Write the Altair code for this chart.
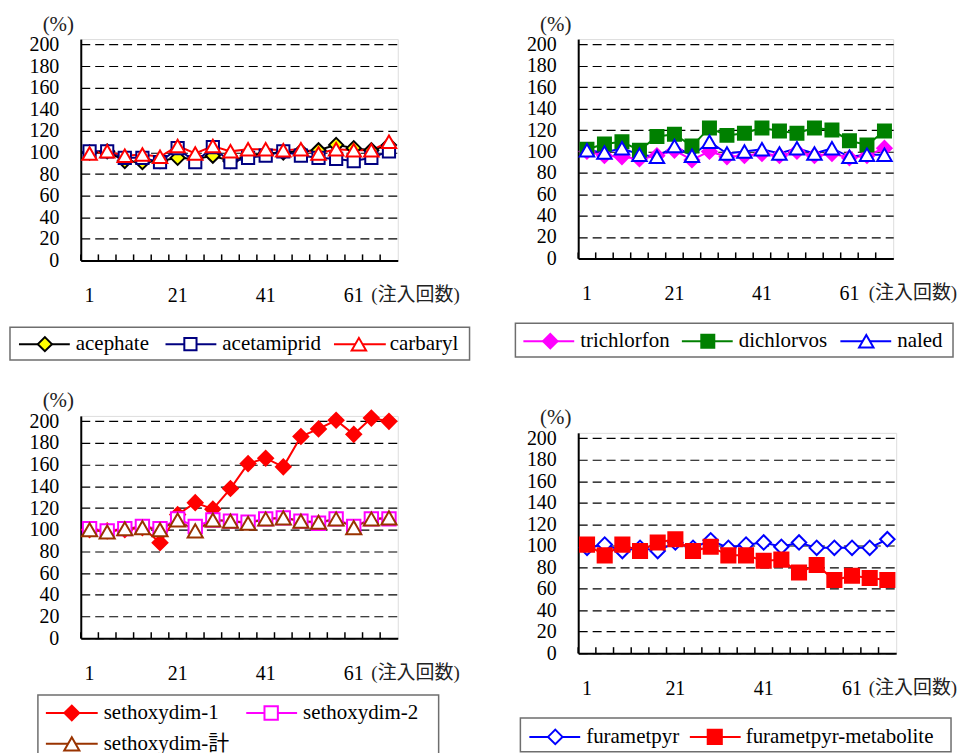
import altair as alt
import pandas as pd

# ---------------- data ----------------
INJECTIONS = [1, 5, 9, 13, 17, 21, 25, 29, 33, 37, 41, 45, 49, 53, 57, 61, 65, 69]
X_LABELS = [1, 21, 41, 61]
Y_TICKS = [0, 20, 40, 60, 80, 100, 120, 140, 160, 180, 200]

ACEPHATE = [100, 101, 92, 91, 92, 95, 94, 97, 92, 97, 99, 100, 101, 102, 107, 104, 102, 107]
ACETAMIPRID = [101, 101, 95, 95, 91, 104, 91, 105, 91, 95, 97, 101, 97, 95, 94, 92, 95, 101]
CARBARYL = [99, 101, 97, 98, 96, 106, 99, 106, 101, 103, 103, 102, 103, 99, 103, 102, 102, 110]

TRICHLORFON = [100, 96, 95, 93, 96, 101, 92, 100, 95, 96, 98, 96, 100, 96, 98, 94, 96, 103]
DICHLORVOS = [102, 107, 109, 101, 114, 116, 105, 122, 115, 117, 122, 119, 117, 122, 120, 110, 106, 119]
NALED = [101, 99, 103, 97, 95, 105, 96, 109, 98, 100, 102, 98, 103, 98, 103, 95, 97, 97]

SETHOXYDIM_1 = [100, 99, 100, 102, 88, 114, 125, 119, 138, 161, 166, 158, 186, 193, 201, 188, 203, 200]
SETHOXYDIM_2 = [101, 99, 101, 103, 101, 110, 103, 109, 108, 107, 110, 111, 108, 106, 110, 103, 110, 110]
SETHOXYDIM_T = [100, 98, 101, 102, 100, 109, 99, 109, 108, 106, 110, 111, 108, 107, 110, 102, 110, 111]

FURAMETPYR = [98, 101, 95, 98, 95, 103, 98, 105, 98, 101, 103, 99, 103, 98, 98, 98, 98, 106]
METABOLITE = [101, 91, 101, 95, 103, 106, 95, 99, 91, 91, 86, 87, 75, 82, 68, 72, 70, 68]

# ---------------- styles ----------------
# name -> (stroke, fill, shape, size)
STYLE = {
    "acephate": ("#000000", "#FFFF00", "diamond", 200),
    "acetamiprid": ("#000080", "#FFFFFF", "square", 150),
    "carbaryl": ("#FF0000", "#FFFFFF", "triangle-up", 210),
    "trichlorfon": ("#FF00FF", "#FF00FF", "diamond", 210),
    "dichlorvos": ("#008000", "#008000", "square", 170),
    "naled": ("#0000FF", "#FFFFFF", "triangle-up", 210),
    "sethoxydim-1": ("#FF0000", "#FF0000", "diamond", 220),
    "sethoxydim-2": ("#FF00FF", "#FFFFFF", "square", 180),
    "sethoxydim-計": ("#993300", "#FFFFFF", "triangle-up", 230),
    "furametpyr": ("#0000FF", "#FFFFFF", "diamond", 210),
    "furametpyr-metabolite": ("#FF0000", "#FF0000", "square", 200),
}

SERIF = "'Liberation Serif', 'DejaVu Serif', 'Noto Sans CJK JP', serif"


def panel(names, values, width, height, box, items):
    rows = []
    for name, vals in zip(names, values):
        st = STYLE[name]
        for inj, v in zip(INJECTIONS, vals):
            rows.append({"inj": inj, "series": name, "value": v,
                         "stroke": st[0], "fill": st[1], "shape": st[2], "size": st[3]})
    df = pd.DataFrame(rows)

    xscale = alt.Scale(type="band", paddingInner=0, paddingOuter=0, domain=INJECTIONS)
    xaxis = alt.Axis(values=X_LABELS, labelAngle=0, ticks=False, tickSize=0, labelPadding=25,
                     labelFont=SERIF, labelFontSize=20, labelColor="#000000",
                     domainColor="#000000", domainWidth=2, grid=False,
                     title="(注入回数)", titleX=291, titleY=34, titleAlign="left",
                     titleBaseline="middle", titleAngle=0, titleFont=SERIF, titleFontSize=19,
                     titleFontWeight="normal", titleColor="#222222")
    yscale = alt.Scale(domain=[0, 205], nice=False)
    yaxis = alt.Axis(values=Y_TICKS, ticks=False, tickSize=0, labelPadding=22,
                     labelFont=SERIF, labelFontSize=20, labelColor="#000000",
                     domainColor="#000000", domainWidth=2,
                     grid=True, gridColor="#000000", gridDash=[9, 5], gridWidth=1.2,
                     title="(%)", titleAngle=0, titleX=-23, titleY=-15, titleAlign="center",
                     titleBaseline="middle", titleFont=SERIF, titleFontSize=21,
                     titleFontWeight="normal", titleColor="#222222")

    X = alt.X("inj:O", scale=xscale, axis=xaxis, bandPosition=0.5)
    Y = alt.Y("value:Q", scale=yscale, axis=yaxis)

    lines = alt.Chart(df).mark_line(strokeWidth=2).encode(
        x=X, y=Y, stroke=alt.Stroke("stroke:N", scale=None), detail="series:N")
    points = alt.Chart(df).mark_point(opacity=1, strokeWidth=2).encode(
        x=X, y=Y,
        stroke=alt.Stroke("stroke:N", scale=None),
        fill=alt.Fill("fill:N", scale=None),
        shape=alt.Shape("shape:N", scale=None),
        size=alt.Size("size:Q", scale=None))
    ticks = alt.Chart(pd.DataFrame({"inj": INJECTIONS})).mark_rule(
        color="#000000", strokeWidth=1.5).encode(
        x=alt.X("inj:O", scale=xscale, axis=xaxis, bandPosition=0),
        y=alt.value(height), y2=alt.value(height - 6))

    layers = [lines, points, ticks]

    bx1, bx2, by1, by2 = box
    layers.append(alt.Chart(pd.DataFrame({"k": [0]})).mark_rect(
        fillOpacity=0, stroke="#6E6E6E", strokeWidth=1.5).encode(
        x=alt.value(bx1), x2=alt.value(bx2), y=alt.value(by1), y2=alt.value(by2)))

    for name, (l1, l2, sx, tx, ly) in zip(names, items):
        st = STYLE[name]
        d = pd.DataFrame({"series": [name]})
        layers.append(alt.Chart(d).mark_rule(stroke=st[0], strokeWidth=2).encode(
            x=alt.value(l1), x2=alt.value(l2), y=alt.value(ly)))
        layers.append(alt.Chart(d).mark_point(
            opacity=1, strokeWidth=2, stroke=st[0], fill=st[1], shape=st[2], size=st[3]).encode(
            x=alt.value(sx), y=alt.value(ly)))
        layers.append(alt.Chart(d).mark_text(
            align="left", baseline="middle", font=SERIF, fontSize=21, color="#000000").encode(
            x=alt.value(tx), y=alt.value(ly), text="series:N"))

    return alt.layer(*layers).properties(width=width, height=height)


p1 = panel(["acephate", "acetamiprid", "carbaryl"], [ACEPHATE, ACETAMIPRID, CARBARYL],
           318, 222, (-71, 390, 289, 322),
           [(-62, -11, -36, -5, 306), (85, 136, 110, 142, 306), (254, 306, 279, 310, 306)])
p2 = panel(["trichlorfon", "dichlorvos", "naled"], [TRICHLORFON, DICHLORVOS, NALED],
           316, 220, (-63, 376, 285, 319),
           [(-55, -4, -28, 2, 303), (104, 155, 130, 161, 303), (263, 314, 289, 320, 303)])
p3 = panel(["sethoxydim-1", "sethoxydim-2", "sethoxydim-計"], [SETHOXYDIM_1, SETHOXYDIM_2, SETHOXYDIM_T],
           318, 223, (-43, 359, 280, 345),
           [(-35, 17, -9, 23, 298), (166, 217, 191, 223, 298), (-35, 17, -9, 23, 329)])
p4 = panel(["furametpyr", "furametpyr-metabolite"], [FURAMETPYR, METABOLITE],
           319, 221, (-58, 374, 286, 320),
           [(-49, 2, -23, 8, 305), (112, 163, 137, 168, 305)])

col1 = alt.vconcat(p1, p3, spacing=156, bounds="flush")
col2 = alt.vconcat(p2, p4, spacing=175, bounds="flush")

# nested flush columns report no width, so the spacing carries the full column offset
chart = alt.hconcat(col1, col2, spacing=499, bounds="flush").properties(
    padding={"left": 0, "top": 3, "right": 0, "bottom": 0}
).configure_view(stroke="#808080", strokeWidth=2).configure(background="white")

chart.save("out.html", embed_options={"renderer": "svg", "actions": False})
